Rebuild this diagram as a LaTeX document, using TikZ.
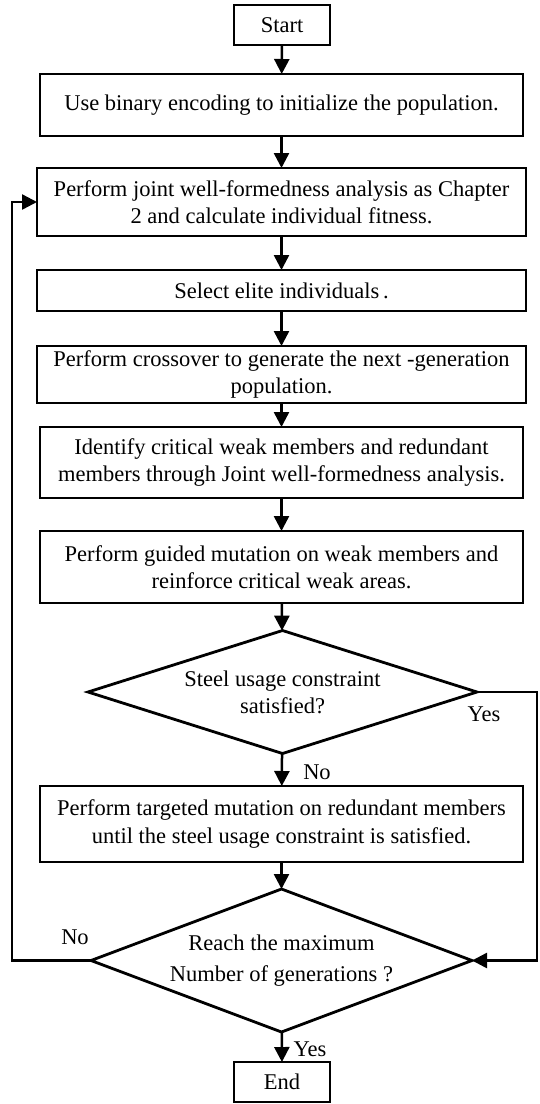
\documentclass[tikz,border=0pt]{standalone}
\usepackage{fontspec}
\setmainfont{Liberation Serif}
\usetikzlibrary{shapes.geometric,arrows.meta}
\begin{document}
\begin{tikzpicture}[x=1pt,y=-1pt,
  box/.style={draw,line width=2.8pt,rectangle,inner sep=0pt,outer sep=0pt,align=center,font=\fontsize{22.5}{27.5}\selectfont},
  dec/.style={draw,line width=2.8pt,diamond,inner sep=0pt,outer sep=0pt,align=center,font=\fontsize{22.5}{27}\selectfont},
  arr/.style={line width=2.5pt,-{Triangle[length=15pt,width=15pt]}},
  lbl/.style={font=\fontsize{22.5}{27}\selectfont,inner sep=0pt}]
\useasboundingbox (0,0) rectangle (539,1104);
\node[box,minimum width=96pt,minimum height=40pt] (start) at (282,25) {Start};
\node[box,minimum width=483pt,minimum height=62pt] (b1) at (281.5,105) {Use binary encoding to initialize the population.};
\node[box,minimum width=489pt,minimum height=68pt] (b2) at (281.5,202) {Perform joint well-formedness analysis as Chapter\\2 and calculate individual fitness.};
\node[box,minimum width=489pt,minimum height=41pt] (b3) at (281.5,290.5) {Select elite individuals\,.};
\node[box,minimum width=489pt,minimum height=57pt] (b4) at (281.5,374.5) {Perform crossover to generate the next -generation\\population.};
\node[box,minimum width=483pt,minimum height=71pt] (b5) at (281.5,462.5) {Identify critical weak members and redundant\\members through Joint well-formedness analysis.};
\node[box,minimum width=483pt,minimum height=72pt] (b6) at (281.5,567) {Perform guided mutation on weak members and\\reinforce critical weak areas.};
\node[dec,aspect=3.16,minimum width=389pt,minimum height=123pt] (d1) at (282.5,692) {Steel usage constraint\\satisfied?};
\node[box,minimum width=483pt,minimum height=76pt] (b7) at (281.5,824) {Perform targeted mutation on redundant members\\until the steel usage constraint is satisfied.};
\node[dec,aspect=2.67,minimum width=381pt,minimum height=143pt,font=\fontsize{22.5}{31}\selectfont] (d2) at (281.5,960.5) {Reach the maximum\\Number of generations ?};
\node[box,minimum width=96pt,minimum height=40pt] (end) at (282,1082) {End};
\draw[arr] (start) -- (b1);
\draw[arr] (b1) -- (b2);
\draw[arr] (b2) -- (b3);
\draw[arr] (b3) -- (b4);
\draw[arr] (b4) -- (b5);
\draw[arr] (b5) -- (b6);
\draw[arr] (b6) -- (d1);
\draw[arr] (d1) -- (b7);
\draw[arr] (b7) -- (d2);
\draw[arr] (d2) -- (end);
\coordinate (rt1) at (537,692);
\coordinate (rt2) at (537,960.5);
\draw[arr] (d1.east) -- (rt1) -- (rt2) -- (d2.east);
\coordinate (lf1) at (12,960.5);
\coordinate (lf2) at (12,202);
\draw[arr] (d2.west) -- (lf1) -- (lf2) -- (b2.west);
\node[lbl] (yes1) at (484,714) {Yes};
\node[lbl] (no1) at (317,772) {No};
\node[lbl] (no2) at (75,937) {No};
\node[lbl] (yes2) at (310,1049) {Yes};
\end{tikzpicture}
\end{document}
